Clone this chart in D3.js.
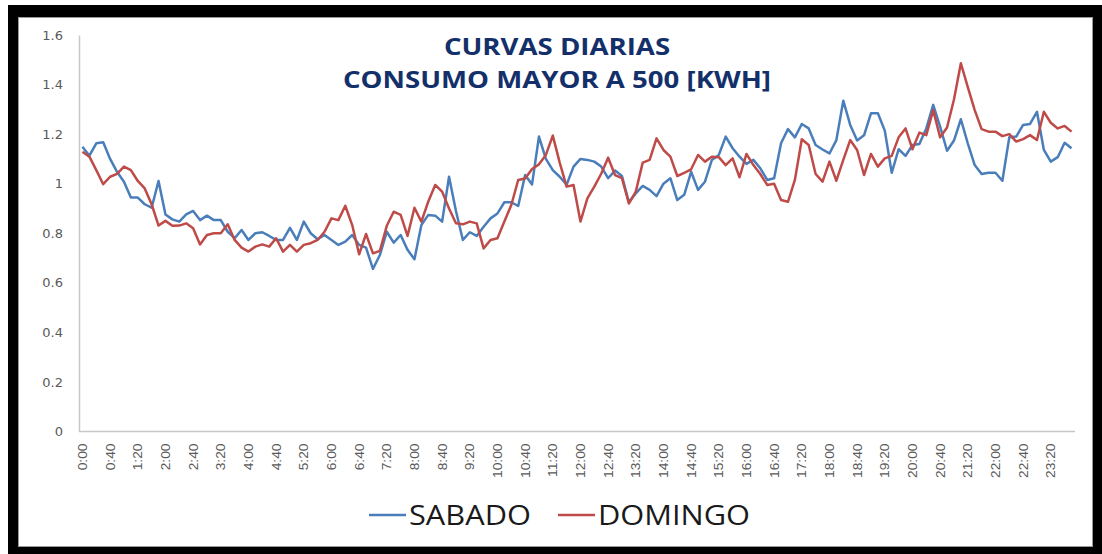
<!DOCTYPE html>
<html>
<head>
<meta charset="utf-8">
<script src="https://cdn.jsdelivr.net/npm/d3@7"></script>
<style>
  body { margin: 0; background: #fff; }
  svg { display: block; }
</style>
</head>
<body>
<div id="chart"></div>
<script>
// Data
const sabado = [
  1.149, 1.113, 1.163, 1.167, 1.10, 1.048, 1.008, 0.944, 0.944, 0.917,
  0.903, 1.011, 0.876, 0.856, 0.847, 0.876, 0.89, 0.853, 0.871, 0.853,
  0.853, 0.806, 0.78, 0.813, 0.773, 0.80, 0.804, 0.789, 0.773, 0.773,
  0.822, 0.773, 0.847, 0.80, 0.776, 0.793, 0.773, 0.753, 0.766, 0.793,
  0.753, 0.742, 0.656, 0.712, 0.806, 0.762, 0.793, 0.733, 0.695, 0.833,
  0.874, 0.871, 0.847, 1.028, 0.89, 0.773, 0.804, 0.789, 0.826, 0.86,
  0.88, 0.925, 0.925, 0.91, 1.035, 0.997, 1.19, 1.10, 1.055, 1.028,
  0.996, 1.069, 1.10, 1.096, 1.089, 1.069, 1.022, 1.053, 1.031, 0.926,
  0.961, 0.991, 0.975, 0.95, 1.0, 1.022, 0.934, 0.955, 1.048, 0.975,
  1.008, 1.096, 1.116, 1.19, 1.143, 1.109, 1.08, 1.096, 1.062, 1.015,
  1.022, 1.163, 1.22, 1.187, 1.241, 1.223, 1.156, 1.138, 1.122, 1.176,
  1.335, 1.237, 1.174, 1.195, 1.284, 1.284, 1.214, 1.044, 1.139, 1.112,
  1.156, 1.16, 1.223, 1.318, 1.23, 1.133, 1.174, 1.26, 1.163, 1.075,
  1.039, 1.044, 1.044, 1.012, 1.187, 1.19, 1.237, 1.241, 1.29, 1.136,
  1.089, 1.107, 1.165, 1.143
]
const domingo = [
  1.129, 1.109, 1.055, 0.998, 1.028, 1.04, 1.069, 1.055, 1.011, 0.981,
  0.917, 0.831, 0.85, 0.83, 0.831, 0.84, 0.82, 0.755, 0.793, 0.80,
  0.80, 0.836, 0.773, 0.742, 0.726, 0.746, 0.755, 0.746, 0.78, 0.726,
  0.753, 0.726, 0.753, 0.76, 0.773, 0.806, 0.86, 0.853, 0.911, 0.833,
  0.715, 0.797, 0.719, 0.729, 0.83, 0.887, 0.874, 0.789, 0.903, 0.847,
  0.928, 0.995, 0.968, 0.90, 0.84, 0.836, 0.847, 0.84, 0.739, 0.773,
  0.78, 0.847, 0.914, 1.015, 1.021, 1.059, 1.078, 1.116, 1.194, 1.085,
  0.988, 0.995, 0.847, 0.941, 0.988, 1.04, 1.105, 1.035, 1.022, 0.92,
  0.968, 1.085, 1.096, 1.183, 1.136, 1.109, 1.031, 1.044, 1.058, 1.116,
  1.089, 1.109, 1.107, 1.075, 1.102, 1.026, 1.12, 1.075, 1.039, 0.995,
  1.0, 0.934, 0.927, 1.015, 1.179, 1.156, 1.039, 1.008, 1.089, 1.012,
  1.096, 1.176, 1.136, 1.035, 1.12, 1.069, 1.102, 1.112, 1.187, 1.223,
  1.139, 1.206, 1.196, 1.297, 1.187, 1.227, 1.34, 1.486, 1.39, 1.297,
  1.22, 1.21, 1.21, 1.192, 1.2, 1.17, 1.18, 1.196, 1.176, 1.29,
  1.246, 1.223, 1.233, 1.21
]
// categories every 10 minutes
const times = []
for (let h = 0; h < 24; h++) {
  for (let m = 0; m < 60; m += 10) times.push(`${h}:${String(m).padStart(2, '0')}`)
}
const xTickLabels = times.filter((t, i) => i % 4 === 0)
const yTicks = [0, 0.2, 0.4, 0.6, 0.8, 1, 1.2, 1.4, 1.6]
const seriesNames = ['SABADO', 'DOMINGO']
const seriesColors = ['#4A7EBB', '#BE4B48']
const titleLines = ['CURVAS DIARIAS', 'CONSUMO MAYOR A 500 [KWH]']

// Dimensions
const width = 1102
const height = 554
const plot = { left: 79, right: 1075, top: 35, bottom: 431.5 }

const svg = d3.select('#chart')
  .append('svg')
  .attr('width', width)
  .attr('height', height)

// frame
svg.append('rect')
  .attr('x', 8).attr('y', 5)
  .attr('width', width - 8).attr('height', height - 5)
  .attr('fill', '#000')
svg.append('rect')
  .attr('x', 18.5).attr('y', 17.5)
  .attr('width', 1074).attr('height', 529)
  .attr('fill', '#fff')
  .attr('stroke', '#9a9a9a')
  .attr('stroke-width', 1)

// Scales
const xScale = d3.scalePoint()
  .domain(times)
  .range([plot.left, plot.right])
  .padding(0.5)

const yScale = d3.scaleLinear()
  .domain([0, 1.6])
  .range([plot.bottom, plot.top])

// Axes
const yAxis = d3.axisLeft(yScale)
  .tickValues(yTicks)
  .tickSize(0)
  .tickPadding(16)
  .tickFormat(d => String(+d.toFixed(1)))

const yAxisGroup = svg.append('g')
  .attr('transform', `translate(${plot.left}, 0)`)
  .call(yAxis)
yAxisGroup.select('.domain').attr('stroke', '#c8c8c8').attr('stroke-width', 1.5)
yAxisGroup.selectAll('text')
  .attr('fill', '#595959')
  .style('font-family', 'DejaVu Sans')
  .style('font-size', '13px')

const xAxis = d3.axisBottom(xScale)
  .tickValues(xTickLabels)
  .tickSize(0)
  .tickSizeOuter(0)

const xAxisGroup = svg.append('g')
  .attr('transform', `translate(0, ${plot.bottom})`)
  .call(xAxis)
xAxisGroup.select('.domain').attr('stroke', '#c8c8c8').attr('stroke-width', 1.5)
  .attr('d', `M${plot.left},0H${plot.right}`)
xAxisGroup.selectAll('text')
  .attr('fill', '#595959')
  .style('font-family', 'Liberation Sans')
  .style('font-size', '12px')
  .attr('text-anchor', 'end')
  .attr('dy', '0.35em')
  .attr('x', 0)
  .attr('y', 0)
  .attr('transform', 'translate(0, 12) rotate(-90) scale(1.15, 1)')

// Lines
const allSeries = [sabado, domingo]
const line = d3.line()
  .x((d, i) => xScale(times[i]))
  .y(d => yScale(d))

svg.selectAll('path.serie')
  .data(allSeries)
  .join('path')
  .attr('class', 'serie')
  .attr('d', d => line(d))
  .attr('fill', 'none')
  .attr('stroke', (d, i) => seriesColors[i])
  .attr('stroke-width', 2.5)
  .attr('stroke-linejoin', 'round')

// Title, one text per line
svg.selectAll('text.title')
  .data(titleLines)
  .join('text')
  .attr('class', 'title')
  .attr('text-anchor', 'middle')
  .attr('fill', '#14306A')
  .attr('transform', (d, i) => `translate(557, ${55 + i * 33}) scale(1.15, 1)`)
  .style('font-family', 'Open Sans')
  .style('font-weight', 'bold')
  .style('font-size', '24px')
  .text(d => d)

// Legend
const legendX = [369, 558]
const legend = svg.selectAll('g.legend')
  .data(seriesNames)
  .join('g')
  .attr('class', 'legend')
  .attr('transform', (d, i) => `translate(${legendX[i]}, 515)`)

legend.append('line')
  .attr('x1', 0).attr('x2', 37)
  .attr('y1', 0).attr('y2', 0)
  .attr('stroke', (d, i) => seriesColors[i])
  .attr('stroke-width', 2.5)

legend.append('text')
  .attr('transform', 'translate(40, 10) scale(1.14, 1)')
  .attr('fill', '#1a1a1a')
  .style('font-family', 'Open Sans')
  .style('font-size', '27px')
  .text(d => d)
</script>
</body>
</html>
